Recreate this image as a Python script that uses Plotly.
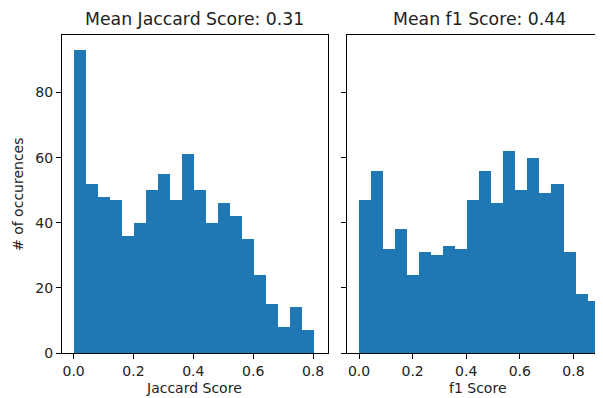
import numpy as np
import plotly.graph_objects as go

# ---- data ----
jaccard_counts = [93, 52, 48, 47, 36, 40, 50, 55, 47, 61, 50, 40, 46, 42, 35, 24, 15, 8, 14, 7]
jaccard_bin_min = 0.002
jaccard_bin_max = 0.802
f1_counts = [47, 56, 32, 38, 24, 31, 30, 33, 32, 47, 56, 46, 62, 50, 60, 49, 52, 31, 18, 16]
f1_bin_min = 0.0
f1_bin_max = 0.899
x_ticks = [0.0, 0.2, 0.4, 0.6, 0.8]
y_ticks = [0, 20, 40, 60, 80]
title_left = "Mean Jaccard Score: 0.31"
title_right = "Mean f1 Score: 0.44"
xlabel_left = "Jaccard Score"
xlabel_right = "f1 Score"
ylabel = "# of occurences"

BLUE = "#1f77b4"
FONT = "DejaVu Sans"

OFF = 8  # default page body margin
W, H = 603 - OFF, 398 - OFF
ML, MR, MT, MB = 62 - OFF, 0, 35 - OFF, 45
PW = W - ML - MR
PH = H - MT - MB


def py(pix):  # reference window pixel -> paper y
    return (H - MB - (pix - OFF)) / PH


def px(pix):  # reference window pixel -> paper x
    return (pix - OFF - ML) / PW


def bars(counts, lo, hi):
    edges = np.linspace(lo, hi, len(counts) + 1)
    centers = (edges[:-1] + edges[1:]) / 2
    width = edges[1] - edges[0]
    return centers, width


fig = go.Figure()
cx, w = bars(jaccard_counts, jaccard_bin_min, jaccard_bin_max)
fig.add_trace(go.Bar(x=cx, y=jaccard_counts, width=w, marker=dict(color=BLUE, line=dict(width=0)),
                     xaxis="x", yaxis="y", showlegend=False))
cx2, w2 = bars(f1_counts, f1_bin_min, f1_bin_max)
fig.add_trace(go.Bar(x=cx2, y=f1_counts, width=w2, marker=dict(color=BLUE, line=dict(width=0)),
                     xaxis="x2", yaxis="y2", showlegend=False))

d1 = [0, px(328)]
d2 = [px(347.3), 1.0]

axis_common = dict(showline=True, linecolor="black", linewidth=1, ticks="outside", ticklen=5,
                   tickcolor="black", tickwidth=1, showgrid=False, zeroline=False,
                   tickfont=dict(family=FONT, size=14, color="#222222"))

fig.update_layout(
    width=W, height=H,
    margin=dict(l=ML, r=MR, t=MT, b=MB),
    plot_bgcolor="white", paper_bgcolor="white",
    bargap=0,
    xaxis=dict(domain=d1, range=[-0.0388, 0.850], tickvals=x_ticks, tickformat=".1f",
               mirror=True, anchor="y", **axis_common),
    yaxis=dict(domain=[0, 1], range=[0, 97.65], tickvals=y_ticks, mirror=True, anchor="x",
               **axis_common),
    xaxis2=dict(domain=d2, range=[-0.0437, 0.9104], tickvals=x_ticks, tickformat=".1f",
                mirror=True, anchor="y2", **axis_common),
    yaxis2=dict(domain=[0, 1], range=[0, 97.65], tickvals=y_ticks, showticklabels=False,
                mirror=False, anchor="x2", **axis_common),
)

ann_font = dict(family=FONT, size=14, color="#222222")
title_font = dict(family=FONT, size=17.3, color="#222222")

fig.add_annotation(text=title_left, x=px(194), y=py(19), xref="paper", yref="paper",
                   xanchor="center", yanchor="middle", showarrow=False, font=title_font)
fig.add_annotation(text=title_right, x=px(479), y=py(19), xref="paper", yref="paper",
                   xanchor="center", yanchor="middle", showarrow=False, font=title_font)
fig.add_annotation(text=xlabel_left, x=px(194), y=py(388), xref="paper", yref="paper",
                   xanchor="center", yanchor="middle", showarrow=False, font=ann_font)
fig.add_annotation(text=xlabel_right, x=px(478), y=py(388), xref="paper", yref="paper",
                   xanchor="center", yanchor="middle", showarrow=False, font=ann_font)
fig.add_annotation(text=ylabel, x=px(18), y=py(194), xref="paper", yref="paper", textangle=-90,
                   xanchor="center", yanchor="middle", showarrow=False, font=ann_font)

fig.write_html("out.html")
